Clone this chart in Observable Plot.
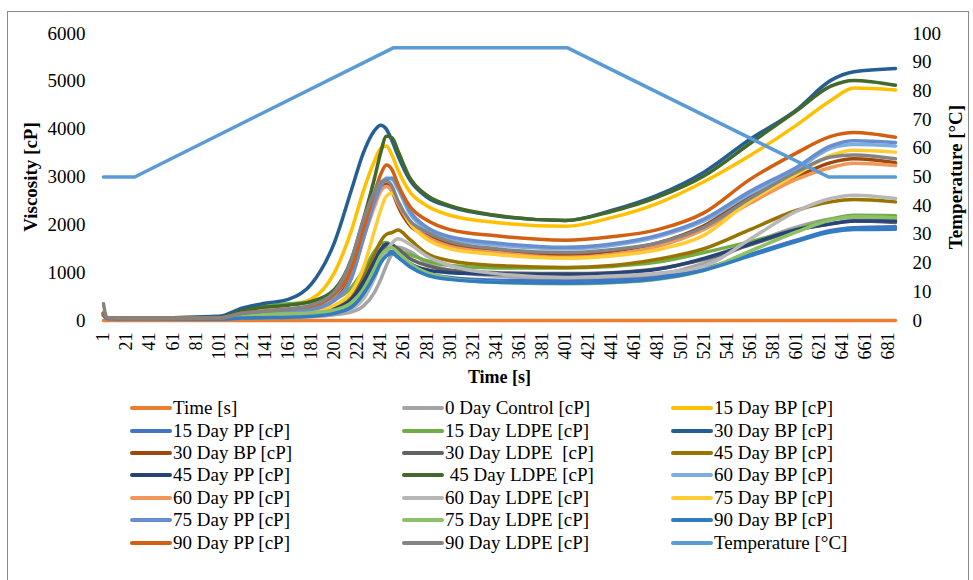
<!DOCTYPE html>
<html>
<head>
<meta charset="utf-8">
<script src="https://cdn.jsdelivr.net/npm/d3@7"></script>
<script src="https://cdn.jsdelivr.net/npm/@observablehq/plot@0.6"></script>
<style>
  html, body { margin: 0; padding: 0; background: #fff; }
  #wrap { position: relative; width: 973px; height: 580px; overflow: hidden; font-family: 'Liberation Serif', 'Times New Roman', 'DejaVu Serif', serif; }
  #border { position: absolute; left: 7px; top: 11px; width: 960px; height: 600px; border: 1px solid #8a8a8a; pointer-events: none; }
  #chart { position: absolute; left: 0; top: 0; }
  #chart svg [aria-label$="axis label"] { font-weight: bold; }
  #legend { position: absolute; left: 0; top: 397px; width: 973px; display: grid; grid-template-columns: 272px 269px 260px; padding-left: 130px; box-sizing: border-box; }
  .item { display: flex; align-items: center; height: 22.4px; font-size: 19px; color: #000; white-space: pre; }
  .sw { display: inline-block; width: 42px; height: 4px; border-radius: 2px; margin-right: 1px; flex: none; }
</style>
</head>
<body>
<div id="wrap">
  <div id="chart"></div>
  <div id="legend"></div>
  <div id="border"></div>
</div>
<script>
// time grid (s)
const T = [1, 4, 21, 101, 121, 141, 161, 181, 201, 216, 226, 236, 241, 246, 251, 256, 266, 281, 301, 341, 401, 441, 481, 521, 561, 601, 631, 651, 687];

// viscosity series [cP]
const timeS     = [0,0,0,0,0,0,0,0,0,0,0,0,0,0,0,0,0,0,0,0,0,0,0,0,0,0,0,0,0];
const day0Ctrl  = [120,40,30,30,50,60,70,80,120,180,300,600,850,1150,1400,1530,1450,1200,1050,930,880,890,960,1200,1600,1950,2120,2150,2100];
const bp15      = [150,60,50,80,200,280,330,450,1000,1900,2700,3350,3600,3650,3450,3150,2700,2400,2200,2050,1970,2150,2450,2900,3450,4080,4600,4860,4820];
const pp15      = [120,40,30,30,50,70,80,100,170,320,600,1000,1250,1400,1440,1360,1170,990,900,840,820,840,900,1080,1380,1680,1880,1940,1960];
const ldpe15    = [150,60,60,60,230,300,350,380,450,700,1050,1450,1600,1630,1560,1480,1380,1250,1150,1100,1100,1130,1220,1420,1650,1900,2120,2200,2190];
const bp30      = [150,60,50,90,260,360,440,760,1630,2750,3500,3980,4080,4000,3750,3450,2950,2580,2380,2190,2090,2300,2620,3100,3790,4400,5020,5200,5270];
const bp30b     = [150,50,40,50,120,170,200,260,480,1000,1800,2500,2800,2850,2700,2400,2000,1780,1600,1450,1380,1450,1620,1980,2600,3000,3300,3380,3300];
const ldpe30    = [150,50,40,40,80,110,130,160,250,420,750,1200,1420,1550,1580,1500,1300,1150,1050,1000,980,1000,1080,1280,1580,1880,2020,2080,2050];
const bp45      = [120,50,40,50,100,130,150,180,280,500,900,1400,1650,1800,1840,1890,1700,1400,1250,1150,1110,1150,1280,1500,1900,2300,2480,2530,2480];
const pp45      = [120,50,40,40,80,110,130,160,250,450,800,1250,1480,1600,1560,1400,1200,1060,1000,970,960,990,1070,1300,1600,1900,2020,2080,2080];
const ldpe45    = [120,60,60,60,200,280,320,400,650,1300,2100,3000,3500,3850,3820,3550,3000,2620,2400,2200,2090,2280,2580,3020,3700,4380,4900,5020,4920];
const bp60      = [120,50,40,50,120,170,210,270,520,1100,1900,2600,2850,2980,2950,2750,2250,1900,1700,1580,1500,1570,1750,2080,2650,3150,3600,3680,3650];
const pp60      = [120,50,40,50,100,140,170,220,420,900,1700,2400,2700,2800,2700,2450,2050,1750,1550,1420,1320,1380,1550,1900,2450,2950,3200,3290,3240];
const ldpe60    = [120,50,40,40,60,80,100,120,160,250,450,900,1200,1450,1620,1710,1600,1350,1150,980,900,930,990,1130,1700,2280,2550,2620,2550];
const bp75      = [120,50,40,50,90,120,140,180,320,600,1100,1900,2300,2600,2660,2500,2050,1700,1500,1380,1300,1350,1480,1780,2500,3050,3450,3560,3520];
const pp75      = [150,50,40,50,100,150,180,230,420,900,1700,2500,2800,2950,2980,2800,2300,1950,1750,1620,1530,1600,1780,2120,2700,3200,3650,3760,3720];
const ldpe75    = [150,50,40,40,90,120,140,160,220,380,650,1100,1350,1480,1520,1420,1200,1000,880,800,770,790,860,1050,1450,1850,2100,2170,2150];
const bp90      = [100,40,30,30,50,60,70,90,150,280,550,950,1200,1350,1400,1320,1130,950,860,800,780,800,870,1050,1350,1650,1850,1900,1910];
const pp90      = [150,60,50,50,150,200,240,300,550,1100,1900,2700,3050,3250,3150,2850,2400,2100,1900,1770,1680,1750,1900,2250,2950,3500,3850,3930,3830];
const ldpe90    = [350,60,40,50,150,200,240,320,600,1300,2100,2700,2900,2920,2800,2500,2100,1850,1650,1500,1420,1480,1620,1950,2550,3100,3420,3460,3380];

// temperature profile [°C]
const tempT = [1, 28, 252, 403, 629, 687];
const tempV = [50, 50, 95, 95, 50, 50];

// legend labels / colors (row-major legend order == series order)
const seriesLabels = ["Time [s]", "0 Day Control [cP]", "15 Day BP [cP]",
  "15 Day PP [cP]", "15 Day LDPE [cP]", "30 Day BP [cP]",
  "30 Day BP [cP]", "30 Day LDPE  [cP]", "45 Day BP [cP]",
  "45 Day PP [cP]", " 45 Day LDPE [cP]", "60 Day BP [cP]",
  "60 Day PP [cP]", "60 Day LDPE [cP]", "75 Day BP [cP]",
  "75 Day PP [cP]", "75 Day LDPE [cP]", "90 Day BP [cP]",
  "90 Day PP [cP]", "90 Day LDPE [cP]"];
const seriesColors = ["#ED7D31", "#A5A5A5", "#FFC000",
  "#4472C4", "#70AD47", "#255E91",
  "#9E480E", "#636363", "#997300",
  "#264478", "#43682B", "#7CAFDD",
  "#F1975A", "#B7B7B7", "#FFCD33",
  "#698ED0", "#8CC168", "#327DC2",
  "#D26012", "#848484"];
const seriesValues = [timeS, day0Ctrl, bp15, pp15, ldpe15, bp30, bp30b, ldpe30, bp45, pp45, ldpe45,
  bp60, pp60, ldpe60, bp75, pp75, ldpe75, bp90, pp90, ldpe90];
const tempLabel = "Temperature [°C]";
const tempColor = "#5B9BD5";

const yTicks = [0, 1000, 2000, 3000, 4000, 5000, 6000];
const tempTicks = [0, 10, 20, 30, 40, 50, 60, 70, 80, 90, 100];
const xTicks = d3.range(1, 682, 20);
const tempToVisc = 60; // 100 °C on the right axis lines up with 6000 cP on the left

// build tidy rows
const rows = [];
seriesValues.forEach((vals, i) => {
  vals.forEach((v, j) => rows.push({id: "s" + i, t: T[j], v}));
});
const tempRows = tempT.map((t, i) => ({t, temp: tempV[i]}));

const ids = seriesValues.map((_, i) => "s" + i);
const FONT = "'Liberation Serif', 'Times New Roman', 'DejaVu Serif', serif";

const chart = Plot.plot({
  width: 973,
  height: 395,
  marginLeft: 103,
  marginRight: 78,
  marginTop: 33,
  marginBottom: 75,
  style: {fontFamily: FONT, fontSize: "19px", color: "#000", background: "transparent"},
  x: {domain: [1, 687]},
  y: {domain: [0, 6000]},
  color: {domain: ids, range: seriesColors},
  marks: [
    Plot.axisY({anchor: "left", ticks: yTicks, tickSize: 0, tickPadding: 18, tickFormat: d3.format("d"),
      label: "Viscosity [cP]", labelAnchor: "center", labelOffset: 80, labelArrow: "none"}),
    Plot.axisY({anchor: "right", ticks: tempTicks.map(d => d * tempToVisc), tickSize: 0, tickPadding: 17,
      tickFormat: d => d3.format("d")(d / tempToVisc),
      label: tempLabel, labelAnchor: "center", labelOffset: 66, labelArrow: "none"}),
    Plot.axisX({ticks: xTicks, tickSize: 0, tickRotate: -90, tickPadding: 12, fontSize: 18, tickFormat: d3.format("d"),
      label: "Time [s]", labelAnchor: "center", labelOffset: 62, labelArrow: "none"}),
    Plot.line(rows, {x: "t", y: "v", z: "id", stroke: "id", strokeWidth: 3.5, curve: "monotone-x",
      strokeLinecap: "round", strokeLinejoin: "round"}),
    Plot.line(tempRows, {x: "t", y: d => d.temp * tempToVisc, stroke: tempColor, strokeWidth: 3.5,
      strokeLinecap: "round", strokeLinejoin: "round"})
  ]
});
document.getElementById("chart").appendChild(chart);

// legend
const legend = document.getElementById("legend");
const legendItems = seriesLabels.map((l, i) => ({label: l, color: seriesColors[i]}));
legendItems.push({label: tempLabel, color: tempColor});
for (const it of legendItems) {
  const div = document.createElement("div");
  div.className = "item";
  const sw = document.createElement("span");
  sw.className = "sw";
  sw.style.background = it.color;
  div.appendChild(sw);
  div.appendChild(document.createTextNode(it.label));
  legend.appendChild(div);
}
</script>
</body>
</html>
